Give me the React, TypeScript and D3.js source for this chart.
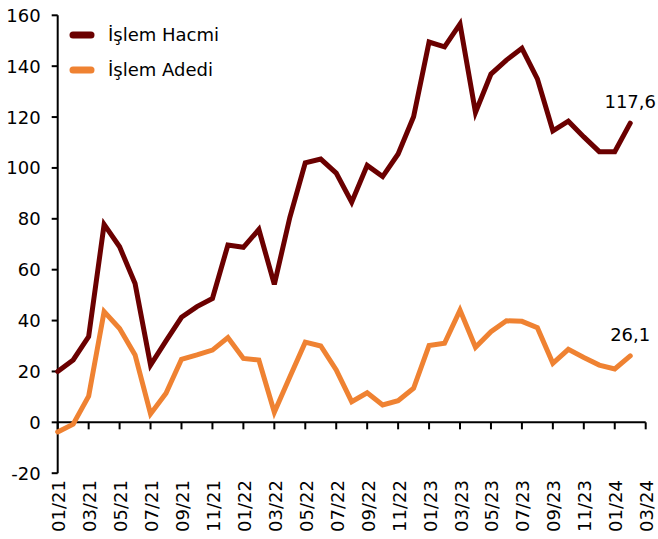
import React, { useRef, useEffect } from 'react';
import * as d3 from 'd3';

const months = [
  '01/21', '02/21', '03/21', '04/21', '05/21', '06/21', '07/21', '08/21', '09/21', '10/21', '11/21', '12/21',
  '01/22', '02/22', '03/22', '04/22', '05/22', '06/22', '07/22', '08/22', '09/22', '10/22', '11/22', '12/22',
  '01/23', '02/23', '03/23', '04/23', '05/23', '06/23', '07/23', '08/23', '09/23', '10/23', '11/23', '12/23',
  '01/24', '02/24', '03/24'
];

const tickLabels = [
  '01/21', '03/21', '05/21', '07/21', '09/21', '11/21', '01/22', '03/22', '05/22', '07/22',
  '09/22', '11/22', '01/23', '03/23', '05/23', '07/23', '09/23', '11/23', '01/24', '03/24'
];

const hacmi = [
  20, 24.5, 33.7, 77.8, 69, 54.6, 22.5, 32, 41.3, 45.5, 48.7, 69.7,
  68.8, 75.8, 54.2, 80.5, 102, 103.5, 98, 86.5, 101, 96.6, 105.5, 120.1,
  149.5, 147.6, 156.6, 121.8, 136.9, 142.4, 147, 135, 114.6, 118.4, 112.2, 106.4,
  106.4, 117.6
];

const adedi = [
  -3.8, -0.7, 10.3, 43.5, 36.9, 26.5, 3.3, 11.4, 24.8, 26.5, 28.4, 33.3,
  25.1, 24.5, 4.0, 17.8, 31.5, 30, 20.6, 8.1, 11.6, 6.8, 8.5, 13.4,
  30.2, 31.1, 44.1, 29.5, 35.6, 39.9, 39.7, 37.2, 23.2, 28.7, 25.5, 22.5,
  21, 26.1
];

const yTicks = [-20, 0, 20, 40, 60, 80, 100, 120, 140, 160];

const series = [
  { name: 'İşlem Hacmi', values: hacmi, color: '#6B0000' },
  { name: 'İşlem Adedi', values: adedi, color: '#EF8232' }
];

const App = () => {
  const ref = useRef<SVGSVGElement>(null);

  useEffect(() => {
    document.body.style.margin = '0';
    const svg = d3.select(ref.current);
    svg.selectAll('*').remove();
    const font = 'DejaVu Sans, Verdana, sans-serif';

    const x = d3.scalePoint<string>().domain(months).range([57.7, 645.7]);
    const y = d3.scaleLinear().domain([-20, 160]).range([473.2, 15.3]);

    // y axis
    const yAxis = svg.append('g').attr('transform', 'translate(57.7,0)');
    yAxis.append('line')
      .attr('y1', y(160)).attr('y2', y(-20))
      .attr('stroke', '#000').attr('stroke-width', 2);
    yAxis.selectAll('.yt')
      .data(yTicks)
      .enter().append('line')
      .attr('x1', -6).attr('x2', 0)
      .attr('y1', d => y(d)).attr('y2', d => y(d))
      .attr('stroke', '#000').attr('stroke-width', 2);
    yAxis.selectAll('.yl')
      .data(yTicks)
      .enter().append('text')
      .attr('x', -17)
      .attr('y', d => y(d))
      .attr('dy', '0.36em')
      .attr('text-anchor', 'end')
      .style('font-family', font)
      .style('font-size', '18px')
      .text(d => d);

    // x axis at zero
    const xAxis = svg.append('g').attr('transform', `translate(0,${y(0)})`);
    xAxis.append('line')
      .attr('x1', x('01/21')).attr('x2', x('03/24'))
      .attr('stroke', '#000').attr('stroke-width', 2);
    xAxis.selectAll('.xt')
      .data(tickLabels)
      .enter().append('line')
      .attr('x1', d => x(d)).attr('x2', d => x(d))
      .attr('y1', 0).attr('y2', 7)
      .attr('stroke', '#000').attr('stroke-width', 2);

    svg.selectAll('.xl')
      .data(tickLabels)
      .enter().append('text')
      .attr('transform', d => `translate(${(x(d) as number) + 1},480) rotate(-90)`)
      .attr('text-anchor', 'end')
      .attr('dy', '0.36em')
      .style('font-family', font)
      .style('font-size', '18px')
      .text(d => d);

    const line = d3.line<number>()
      .x((_, i) => x(months[i]) as number)
      .y(d => y(d));

    series.forEach(s => {
      svg.append('path')
        .datum(s.values)
        .attr('d', line)
        .attr('fill', 'none')
        .attr('stroke', s.color)
        .attr('stroke-width', 5)
        .attr('stroke-linecap', 'round');

      const last = s.values.length - 1;
      svg.append('text')
        .attr('x', x(months[last]) as number)
        .attr('y', y(s.values[last]) - 15)
        .attr('text-anchor', 'middle')
        .style('font-family', font)
        .style('font-size', '18px')
        .text(String(s.values[last]).replace('.', ','));
    });

    // legend
    const legend = svg.selectAll('.lg')
      .data(series)
      .enter().append('g')
      .attr('transform', (_, i) => `translate(0,${35 + i * 35})`);
    legend.append('line')
      .attr('x1', 73).attr('x2', 91)
      .attr('stroke', d => d.color)
      .attr('stroke-width', 7)
      .attr('stroke-linecap', 'round');
    legend.append('text')
      .attr('x', 108)
      .attr('dy', '0.36em')
      .style('font-family', font)
      .style('font-size', '18px')
      .text(d => d.name);
  }, []);

  return <svg ref={ref} width={658} height={539} style={{ display: 'block' }}></svg>;
};

export default App;
